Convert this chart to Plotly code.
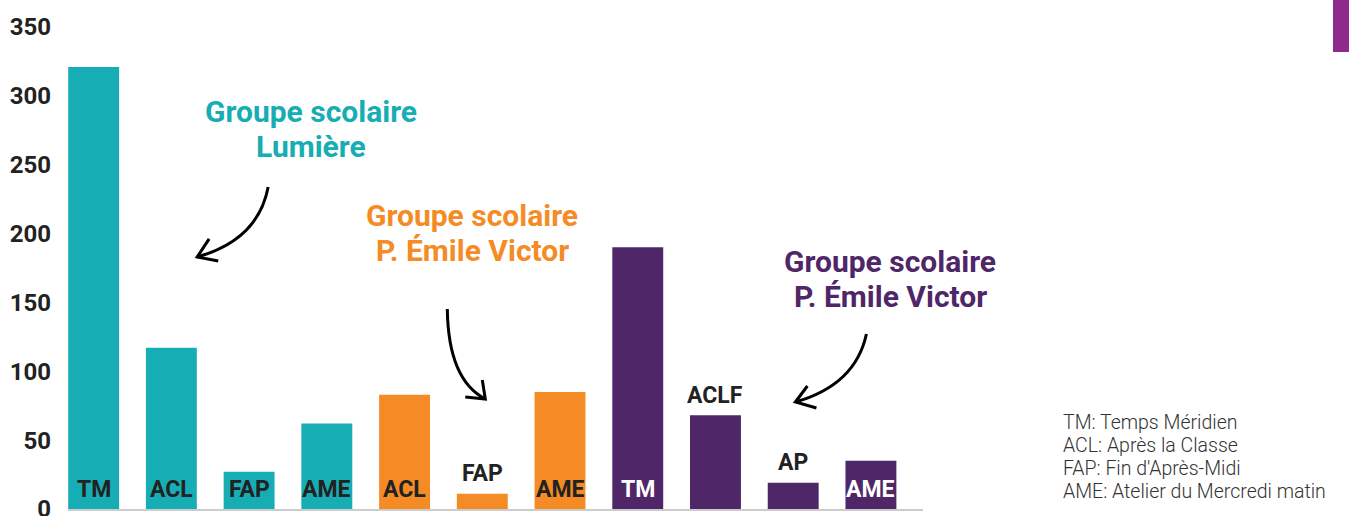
import plotly.graph_objects as go

# data
labels = ["TM", "ACL", "FAP", "AME", "ACL", "FAP", "AME", "TM", "ACLF", "AP", "AME"]
values = [321, 117, 27, 62, 83, 11, 85, 190, 68, 19, 35]
groups = ["lumiere"] * 4 + ["emile"] * 3 + ["emile2"] * 4
label_inside = [True, True, True, True, True, False, True, True, False, False, True]
label_white = [False] * 7 + [True, False, False, True]

group_colors = {"lumiere": "#17adb5", "emile": "#f58b25", "emile2": "#4f2668"}
y_ticks = [0, 50, 100, 150, 200, 250, 300, 350]

legend_lines = [
    "TM: Temps Méridien",
    "ACL: Après la Classe",
    "FAP: Fin d'Après-Midi",
    "AME: Atelier du Mercredi matin",
]

DARK = "#222222"
x = list(range(len(labels)))

fig = go.Figure(go.Bar(
    x=x,
    y=values,
    marker_color=[group_colors[g] for g in groups],
    marker_line_width=0,
    hoverinfo="skip",
))

# bar labels
for i, (lab, v) in enumerate(zip(labels, values)):
    fig.add_annotation(x=i, y=0 if label_inside[i] else v, text=lab, showarrow=False,
                       yanchor="middle", yshift=20,
                       font=dict(size=23, weight="bold",
                                 color="white" if label_white[i] else DARK))

# group titles, one annotation per line to keep the tight line spacing
titles = [
    (2.80, 275.6, ["Groupe scolaire", "Lumière"], group_colors["lumiere"]),
    (4.87, 200.1, ["Groupe scolaire", "P. Émile Victor"], group_colors["emile"]),
    (10.25, 166.7, ["Groupe scolaire", "P. Émile Victor"], group_colors["emile2"]),
]
for tx, ty, lines, col in titles:
    for k, line in enumerate(lines):
        fig.add_annotation(x=tx, y=ty, text=line, showarrow=False,
                           xanchor="center", yanchor="middle", yshift=17.5 - 35 * k,
                           font=dict(size=30, weight="bold", color=col))

# hand-drawn style arrows (curve + two wings), in data coords
arrows = [
    # start, control, tip, wing1, wing2
    ((2.245, 233.8), (2.117, 195.4), (1.332, 183.0), (1.486, 196.1), (1.603, 180.1)),
    ((4.550, 145.2), (4.562, 93.7), (5.039, 79.9), (5.000, 93.7), (4.781, 81.3)),
    ((9.942, 127.1), (9.801, 90.1), (9.028, 77.7), (9.183, 89.3), (9.299, 73.3)),
]
for s, c, t, w1, w2 in arrows:
    fig.add_shape(type="path", xref="x", yref="y",
                  path=f"M {s[0]},{s[1]} Q {c[0]},{c[1]} {t[0]},{t[1]}",
                  line=dict(color="black", width=3))
    fig.add_shape(type="path", xref="x", yref="y",
                  path=f"M {w1[0]},{w1[1]} L {t[0]},{t[1]} L {w2[0]},{w2[1]}",
                  line=dict(color="black", width=3))

# abbreviations key
for k, line in enumerate(legend_lines):
    fig.add_annotation(xref="paper", yref="y", x=1.1614, y=38.1, text=line,
                       showarrow=False, xanchor="left", yanchor="middle",
                       yshift=34.5 - 23 * k,
                       font=dict(size=19.5, weight=300, color="#333333"))

# purple tab top right
fig.add_shape(type="rect", xref="paper", yref="paper",
              x0=1.4795, x1=1.52, y0=0.948, y1=1.1,
              fillcolor="#8e2a8e", line_width=0, layer="above")

fig.update_layout(
    width=1349, height=516,
    margin=dict(l=68, r=426, t=27, b=7, autoexpand=False),
    paper_bgcolor="white", plot_bgcolor="white",
    font=dict(family="Roboto", color=DARK),
    bargap=0.345,
    showlegend=False,
    xaxis=dict(range=[-0.33, 10.67], showticklabels=False, showgrid=False,
               zeroline=False, showline=True, linecolor="#cccccc", linewidth=2,
               automargin=False, fixedrange=True),
    yaxis=dict(range=[0, 350], tickvals=y_ticks, showgrid=False, zeroline=False,
               tickfont=dict(size=24, weight="bold", color=DARK),
               ticklabelstandoff=16, ticklabeloverflow="allow",
               automargin=False, fixedrange=True),
)

fig.write_html("out.html", config={"displayModeBar": False},
               post_script="document.body.style.margin='0';")
